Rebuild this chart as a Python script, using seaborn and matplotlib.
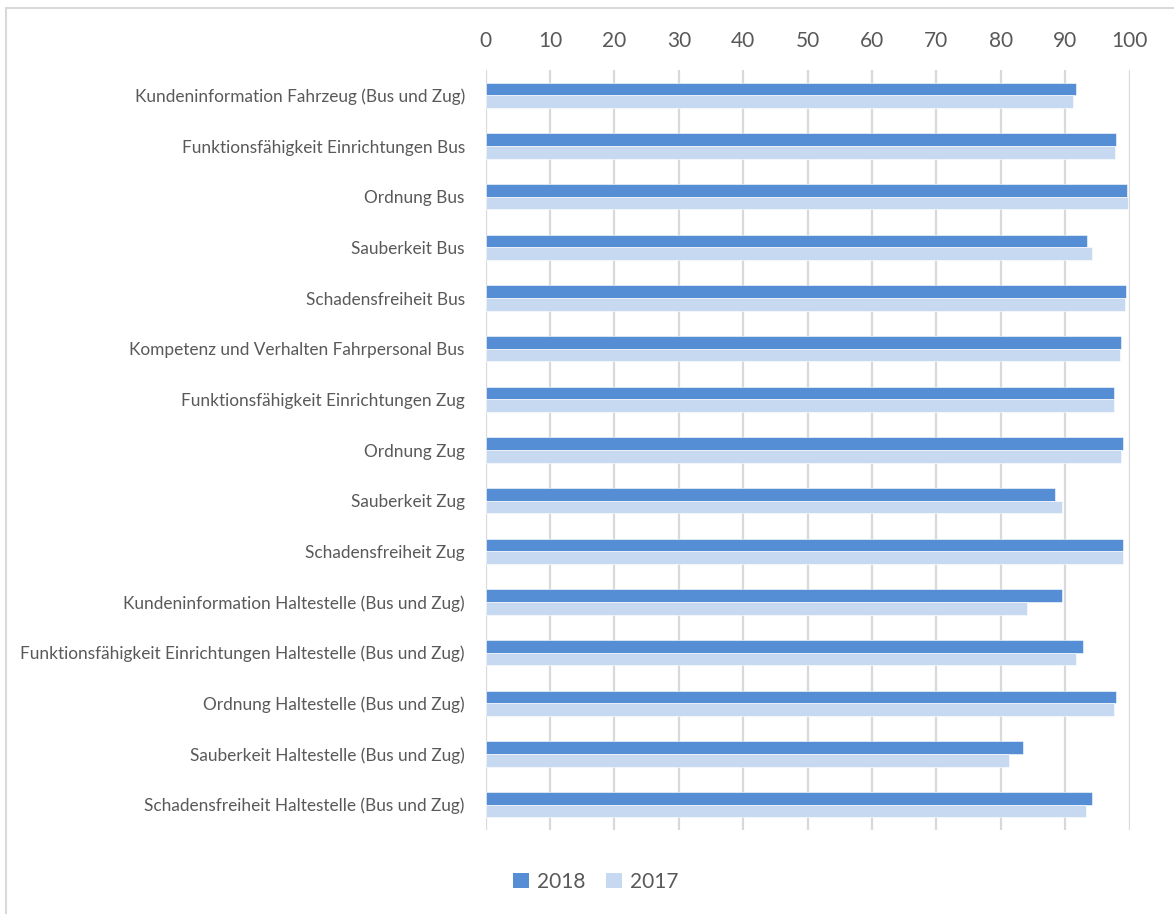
import matplotlib
matplotlib.use("Agg")
import matplotlib.pyplot as plt
from matplotlib.lines import Line2D
from matplotlib.patches import Patch
import seaborn as sns
import pandas as pd

categories = [
    "Kundeninformation Fahrzeug (Bus und Zug)",
    "Funktionsfähigkeit Einrichtungen Bus",
    "Ordnung Bus",
    "Sauberkeit Bus",
    "Schadensfreiheit Bus",
    "Kompetenz und Verhalten Fahrpersonal Bus",
    "Funktionsfähigkeit Einrichtungen Zug",
    "Ordnung Zug",
    "Sauberkeit Zug",
    "Schadensfreiheit Zug",
    "Kundeninformation Haltestelle (Bus und Zug)",
    "Funktionsfähigkeit Einrichtungen Haltestelle (Bus und Zug)",
    "Ordnung Haltestelle (Bus und Zug)",
    "Sauberkeit Haltestelle (Bus und Zug)",
    "Schadensfreiheit Haltestelle (Bus und Zug)",
]
values_2018 = [91.6, 97.9, 99.6, 93.3, 99.4, 98.6, 97.5, 98.9, 88.4, 99.0,
               89.5, 92.8, 97.9, 83.4, 94.2]
values_2017 = [91.2, 97.7, 99.8, 94.2, 99.3, 98.5, 97.5, 98.7, 89.5, 99.0,
               84.1, 91.7, 97.6, 81.3, 93.2]
years = ["2018", "2017"]
x_ticks = [0, 10, 20, 30, 40, 50, 60, 70, 80, 90, 100]

colors = {"2018": "#558ED5", "2017": "#C6D9F1"}
text_color = "#595959"
grid_color = "#D9D9D9"

df = pd.DataFrame({
    "Kategorie": categories * 2,
    "Wert": values_2018 + values_2017,
    "Jahr": ["2018"] * len(categories) + ["2017"] * len(categories),
})

sns.set_theme(style="white")
plt.rcParams["font.family"] = ["Lato", "DejaVu Sans"]

fig = plt.figure(figsize=(11.74, 9.14), dpi=100)
ax = fig.add_axes([485.6 / 1174, 1 - 830 / 914, 644.1 / 1174, 760 / 914])

sns.barplot(data=df, y="Kategorie", x="Wert", hue="Jahr", hue_order=years,
            palette=colors, saturation=1, orient="h", width=0.5, ax=ax,
            legend=False, edgecolor="white", linewidth=0.4, zorder=3)

ax.set_xlim(0, 100)
ax.set_ylim(len(categories) - 0.5, -0.5)
ax.set_xticks(x_ticks)
ax.xaxis.tick_top()
ax.tick_params(axis="x", length=0, pad=14, labelsize=15, labelcolor=text_color)
ax.tick_params(axis="y", length=0, pad=15, labelsize=12.4, labelcolor=text_color)
ax.grid(axis="x", color=grid_color, linewidth=1.6, zorder=0)
ax.grid(axis="y", visible=False)
for s in ax.spines.values():
    s.set_visible(False)
ax.set_xlabel("")
ax.set_ylabel("")

handles = [Patch(facecolor=colors[y], edgecolor="none", label=y) for y in years]
fig.legend(handles=handles, loc="center", bbox_to_anchor=(596 / 1174, 1 - 882 / 914),
           ncol=2, frameon=False, fontsize=15, handlelength=0.75, handleheight=0.75,
           handletextpad=0.4, columnspacing=1.0, labelcolor=text_color)

# chart frame edges
fig.add_artist(Line2D([6 / 1174, 6 / 1174], [0, 1 - 8 / 914], transform=fig.transFigure,
                      color=grid_color, linewidth=1.5))
fig.add_artist(Line2D([6 / 1174, 1], [1 - 8 / 914, 1 - 8 / 914], transform=fig.transFigure,
                      color=grid_color, linewidth=1.5))

fig.savefig("out.png", dpi=100, facecolor="white")
